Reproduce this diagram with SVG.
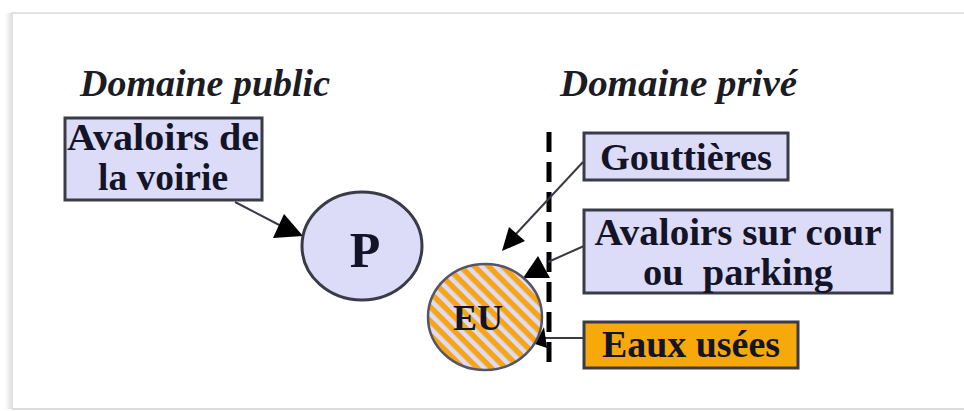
<svg xmlns="http://www.w3.org/2000/svg" width="964" height="411" viewBox="0 0 964 411">
<defs>
<style>
.box{fill:#dcdcf8;stroke:#3a3a48;stroke-width:3}
.orange{fill:#f7a80a;stroke:#3a3a48;stroke-width:3}
.lbl{font-family:'Liberation Serif','Times New Roman',Tinos,'DejaVu Serif',serif;font-weight:bold;font-size:38px;fill:#141428;white-space:pre}
.title{font-family:'Liberation Serif','Times New Roman',Tinos,'DejaVu Serif',serif;font-weight:bold;font-style:italic;font-size:38px;fill:#1c1c24}
.edge{stroke:#3a3a44;stroke-width:2;fill:none}
.head{fill:#000}
</style>
<pattern id="hatch" patternUnits="userSpaceOnUse" width="10" height="10" patternTransform="rotate(-45)">
<rect width="10" height="10" fill="#f7a514"/>
<rect width="4.5" height="10" fill="#dcdcf8"/>
</pattern>
<linearGradient id="shadow" x1="0" y1="0" x2="1" y2="0">
<stop offset="0" stop-color="#ffffff"/>
<stop offset="1" stop-color="#dedede"/>
</linearGradient>
</defs>
<rect width="964" height="411" fill="#ffffff"/>
<g id="frame">
<rect x="5" y="13" width="7" height="396" fill="url(#shadow)"/>
<path d="M12 409 V13 H964" fill="none" stroke="#e2e2e2" stroke-width="2"/>
<path d="M12 409 H964" fill="none" stroke="#dcdcdc" stroke-width="2"/>
</g>
<g id="titles">
<text class="title" font-family="Liberation Serif, serif" x="80" y="96" textLength="250" lengthAdjust="spacingAndGlyphs">Domaine public</text>
<text class="title" font-family="Liberation Serif, serif" x="560" y="96" textLength="237" lengthAdjust="spacingAndGlyphs">Domaine privé</text>
</g>
<g id="boundary">
<line x1="549" y1="132" x2="549" y2="367" stroke="#000" stroke-width="5" stroke-dasharray="20 10"/>
</g>
<g id="connectors">
<line class="edge" x1="235" y1="202" x2="285" y2="228"/>
<polygon class="head" points="303,236 273,238 284,214"/>
<line class="edge" x1="583" y1="162" x2="515" y2="235"/>
<polygon class="head" points="502,251 509,227 525,241"/>
<line class="edge" x1="584" y1="246" x2="548" y2="262"/>
<polygon class="head" points="538,256 523,278 550,278"/>
<line class="edge" x1="584" y1="338" x2="545" y2="338"/>
<polygon class="head" points="535,344 544,327 547,348"/>
</g>
<g id="avaloirs-voirie">
<rect class="box" x="65" y="118" width="197" height="82"/>
<text class="lbl" x="163" y="150" text-anchor="middle" textLength="192" lengthAdjust="spacingAndGlyphs">Avaloirs de</text>
<text class="lbl" x="163" y="190" text-anchor="middle" textLength="130" lengthAdjust="spacingAndGlyphs">la voirie</text>
</g>
<g id="P">
<ellipse cx="362" cy="246" rx="60" ry="54" fill="#dcdcf8" stroke="#3a3a48" stroke-width="3"/>
<text class="lbl" x="365" y="267" text-anchor="middle" style="font-size:50px">P</text>
</g>
<g id="EU">
<ellipse cx="485" cy="317" rx="57" ry="53" fill="url(#hatch)" stroke="#555566" stroke-width="2.5"/>
<text class="lbl" x="478" y="330" text-anchor="middle" style="font-size:36px">EU</text>
</g>
<g id="gouttieres">
<rect class="box" x="584" y="133" width="204" height="47"/>
<text class="lbl" x="686" y="170" text-anchor="middle" textLength="172" lengthAdjust="spacingAndGlyphs">Gouttières</text>
</g>
<g id="avaloirs-cour">
<rect class="box" x="584" y="210" width="308" height="83"/>
<text class="lbl" x="738" y="245" text-anchor="middle" textLength="287" lengthAdjust="spacingAndGlyphs">Avaloirs sur cour</text>
<text class="lbl" x="738" y="285" text-anchor="middle" textLength="190" lengthAdjust="spacingAndGlyphs">ou  parking</text>
</g>
<g id="eaux-usees">
<rect class="orange" x="584" y="322" width="214" height="46"/>
<text class="lbl" x="691" y="357" text-anchor="middle" textLength="178" lengthAdjust="spacingAndGlyphs">Eaux usées</text>
</g>
</svg>
